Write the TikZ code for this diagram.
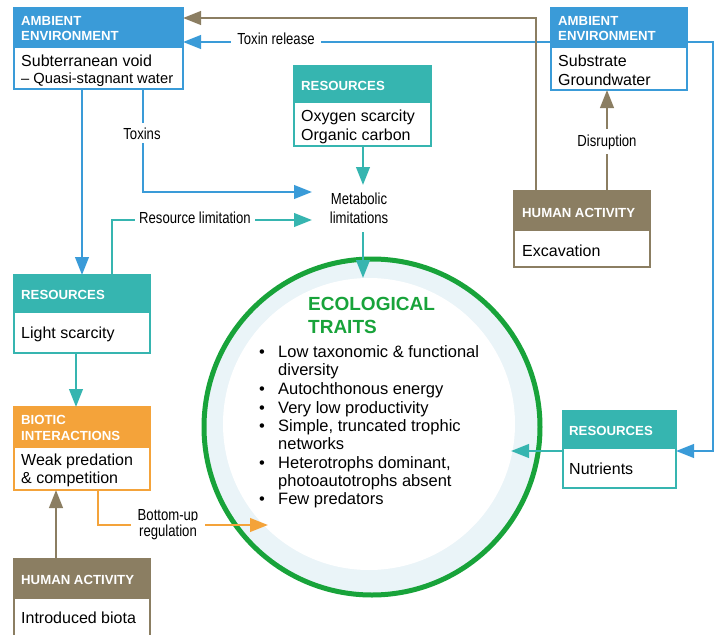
\documentclass[tikz,border=0pt]{standalone}
\usepackage{fontspec}
\setmainfont{Liberation Sans}
\newfontfamily\condf[FakeStretch=0.82]{Liberation Sans}
\usetikzlibrary{arrows.meta}
\definecolor{cblue}{RGB}{58,155,216}
\definecolor{cteal}{RGB}{54,181,176}
\definecolor{cbrown}{RGB}{139,126,98}
\definecolor{corange}{RGB}{244,163,58}
\definecolor{cgreen}{RGB}{24,163,58}
\definecolor{cband}{RGB}{234,244,248}
\begin{document}
\begin{tikzpicture}[x=1pt,y=-1pt,
  frame/.style={draw=#1, line width=2.2pt, fill=white, anchor=north west, inner sep=0pt, outer sep=0pt},
  hdr/.style={anchor=base west, inner sep=0pt, text=white, font=\fontsize{13.2}{15}\selectfont\bfseries},
  body/.style={anchor=base west, inner sep=0pt, font=\fontsize{16}{18}\selectfont},
  bullet/.style={anchor=base west, inner sep=0pt, font=\fontsize{16.5}{18}\selectfont},
  ttl/.style={anchor=base west, inner sep=0pt, text=cgreen, font=\fontsize{19}{22}\selectfont\bfseries},
  lbl/.style={anchor=base, fill=white, inner xsep=5pt, inner ysep=3pt, font=\condf\fontsize{16}{18}\selectfont},
  link/.style={line width=2.5pt, draw=#1},
  arr/.style={line width=2.5pt, draw=#1, -{Triangle[length=18pt,width=13.5pt,fill=#1]}},
]
\useasboundingbox (0,0) rectangle (721,635);
\clip (0,0) rectangle (721,635);

% ---------- ecological traits circle ----------
\node[circle, draw=cgreen, line width=5pt, fill=cband, minimum size=336pt, inner sep=0pt] (eco) at (372,427) {};
\node[circle, fill=white, minimum size=292pt, inner sep=0pt] (ecoin) at (369,424) {};
\node[ttl] (ttl1) at (308,310) {ECOLOGICAL};
\node[ttl] (ttl2) at (308,333) {TRAITS};
\foreach \y [count=\i] in {357,394,413,431,468,504}
  \node[bullet] (bl\i) at (259,\y) {•};
\node[bullet] (tr1) at (278,357) {Low taxonomic \& functional};
\node[bullet] (tr2) at (278,375) {diversity};
\node[bullet] (tr3) at (278,394) {Autochthonous energy};
\node[bullet] (tr4) at (278,413) {Very low productivity};
\node[bullet] (tr5) at (278,431) {Simple, truncated trophic};
\node[bullet] (tr6) at (278,449) {networks};
\node[bullet] (tr7) at (278,468) {Heterotrophs dominant,};
\node[bullet] (tr8) at (278,486) {photoautotrophs absent};
\node[bullet] (tr9) at (278,504) {Few predators};

% ---------- boxes ----------
\node[frame=cblue, minimum width=169pt, minimum height=81pt] (ambL) at (14,8) {};
\fill[cblue] (13,7) rectangle (184,48);
\node[hdr] (ambLh1) at (21,25) {AMBIENT};
\node[hdr] (ambLh2) at (21,40) {ENVIRONMENT};
\node[body] (ambLb1) at (21,66) {Subterranean void};
\node[body, font=\fontsize{14.7}{17}\selectfont] (ambLb2) at (21,83) {– Quasi-stagnant water};

\node[frame=cblue, minimum width=136pt, minimum height=82pt] (ambR) at (551,8) {};
\fill[cblue] (550,7) rectangle (688,48);
\node[hdr] (ambRh1) at (558,25) {AMBIENT};
\node[hdr] (ambRh2) at (558,40) {ENVIRONMENT};
\node[body] (ambRb1) at (558,66) {Substrate};
\node[body] (ambRb2) at (558,85) {Groundwater};

\node[frame=cteal, minimum width=137pt, minimum height=80pt] (oxy) at (294,66) {};
\fill[cteal] (293,65) rectangle (432,103);
\node[hdr] (oxyh) at (301,90) {RESOURCES};
\node[body] (oxyb1) at (301,121) {Oxygen scarcity};
\node[body] (oxyb2) at (301,140) {Organic carbon};

\node[frame=cbrown, minimum width=136pt, minimum height=76pt] (exc) at (514,191) {};
\fill[cbrown] (513,190) rectangle (651,231);
\node[hdr] (exch) at (522,217) {HUMAN ACTIVITY};
\node[body] (excb) at (522,256) {Excavation};

\node[frame=cteal, minimum width=136pt, minimum height=78pt] (light) at (14,275) {};
\fill[cteal] (13,274) rectangle (151,313);
\node[hdr] (lighth) at (21,299) {RESOURCES};
\node[body] (lightb) at (21,338) {Light scarcity};

\node[frame=corange, minimum width=136pt, minimum height=83pt] (biotic) at (14,407) {};
\fill[corange] (13,406) rectangle (151,448);
\node[hdr] (bioh1) at (21,424) {BIOTIC};
\node[hdr] (bioh2) at (21,440) {INTERACTIONS};
\node[body] (biob1) at (21,465) {Weak predation};
\node[body] (biob2) at (21,483) {\& competition};

\node[frame=cbrown, minimum width=136pt, minimum height=100pt] (intro) at (14,559) {};
\fill[cbrown] (13,558) rectangle (151,599);
\node[hdr] (introh) at (21,584) {HUMAN ACTIVITY};
\node[body] (introb) at (21,623) {Introduced biota};

\node[frame=cteal, minimum width=113pt, minimum height=77pt] (nut) at (563,411) {};
\fill[cteal] (562,410) rectangle (677,449);
\node[hdr] (nuth) at (569,435) {RESOURCES};
\node[body] (nutb) at (569,474) {Nutrients};

% ---------- reference points for connectors ----------
\coordinate (yTop) at (0,18);
\coordinate (yTox) at (0,42);
\coordinate (yNut) at (0,451);
\coordinate (xExc) at (536,0);
\coordinate (xDis) at (607,0);
\coordinate (xBlue1) at (82,0);
\coordinate (xBlue2) at (143,0);
\coordinate (xTeal1) at (112,0);
\coordinate (xTeal2) at (76,0);
\coordinate (xMet) at (363,0);
\coordinate (xHum) at (56,0);
\coordinate (xOra) at (98,0);
\coordinate (xNut) at (511,0);
\coordinate (loopR) at (713,42);
\coordinate (toxTip) at (312,192);
\coordinate (resTip) at (312,220);
\coordinate (oxTip) at (363,185);
\coordinate (metOut) at (363,232);
\coordinate (ecoTip) at (363,278);
\coordinate (buTip) at (268,525);

% ---------- connectors ----------
\draw[arr=cblue] (ambR.west |- yTox) -- (ambL.east |- yTox);
\draw[arr=cblue] (ambR.east |- yTox) -- (loopR) |- (nut.east |- yNut);
\draw[arr=cblue] (ambL.south -| xBlue1) -- (light.north -| xBlue1);
\draw[arr=cblue] (ambL.south -| xBlue2) |- (toxTip);
\draw[arr=cbrown] (exc.north -| xExc) |- (ambL.east |- yTop);
\draw[arr=cbrown] (exc.north -| xDis) -- (ambR.south -| xDis);
\draw[arr=cteal] (oxy.south -| xMet) -- (oxTip);
\draw[arr=cteal] (metOut) -- (ecoTip);
\draw[arr=cteal] (light.north -| xTeal1) |- (resTip);
\draw[arr=cteal] (light.south -| xTeal2) -- (biotic.north -| xTeal2);
\draw[arr=cteal] (nut.west |- yNut) -- (xNut |- yNut);
\draw[arr=cbrown] (intro.north -| xHum) -- (biotic.south -| xHum);
\draw[arr=corange] (biotic.south -| xOra) |- (buTip);

% ---------- connector labels ----------
\node[lbl, inner xsep=6pt] (lTox) at (276,44) {Toxin release};
\node[lbl, inner ysep=4pt] (lToxins) at (142,139) {Toxins};
\node[lbl, inner ysep=5pt] (lDis) at (607,146) {Disruption};
\node[lbl] (lMet1) at (359,204) {Metabolic};
\node[lbl] (lMet2) at (359,223) {limitations};
\node[lbl, inner xsep=4pt] (lRes) at (195,223) {Resource limitation};
\node[lbl, inner xsep=7pt] (lBu1) at (168,520) {Bottom-up};
\node[lbl, inner xsep=7pt] (lBu2) at (168,536) {regulation};
\end{tikzpicture}
\end{document}
